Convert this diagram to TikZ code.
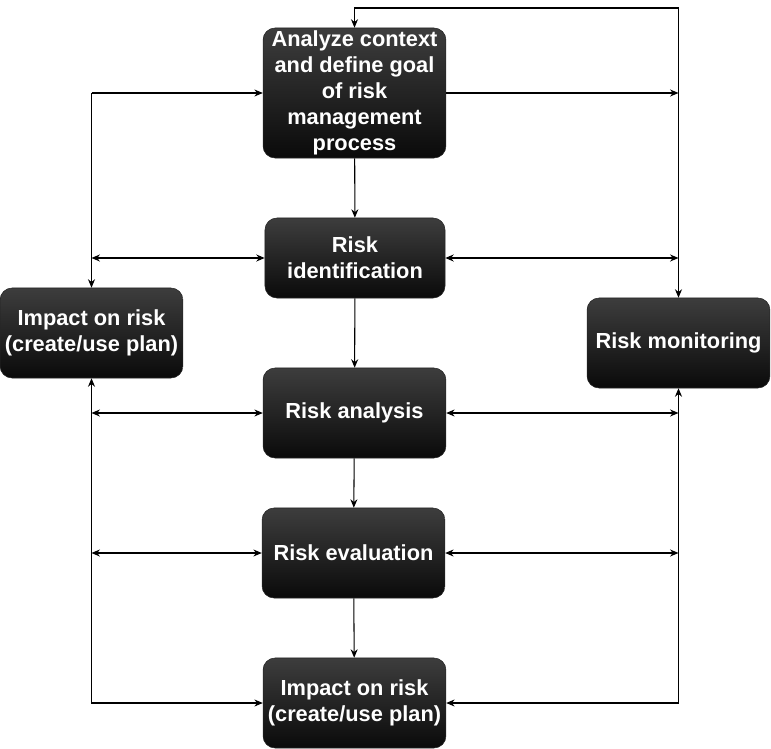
\documentclass[tikz,border=0pt]{standalone}
\usepackage{fontspec}
\setmainfont{Liberation Sans}
\usetikzlibrary{arrows.meta}
\colorlet{box top}{black!76}
\colorlet{box bottom}{black!96}
\colorlet{box edge}{black!85}
\tikzset{
  riskbox/.style={rounded corners=0.3cm, draw=box edge, top color=box top, bottom color=box bottom,
    text=white, font=\fontsize{15.5}{18.5}\selectfont\bfseries, align=center,
    minimum width=4.57cm, minimum height=2.25cm, inner sep=1pt},
  tall/.style={minimum height=3.25cm},
  short/.style={minimum width=4.5cm, minimum height=2cm},
  plain/.style={},
  flow/.style={draw, line width=0.75pt, -{Stealth[length=6pt,width=5pt]}},
  both/.style={draw, line width=0.75pt, {Stealth[length=6pt,width=5pt]}-{Stealth[length=6pt,width=5pt]}}
  }
\def\steps{{(354.5,93)/ctx/tall/{Analyze context\\and define goal\\of risk\\management\\process}},
  {(355,258)/ident/short/{Risk\\identification}},
  {(354.5,413)/analysis/plain/{Risk analysis}},
  {(353.5,553)/evaluation/plain/{Risk evaluation}},
  {(354.5,703)/impact/plain/{Impact on risk\\(create/use plan)}},
  {(91.5,333)/impactL/plain/{Impact on risk\\(create/use plan)}},
  {(678.5,343)/monitor/plain/{Risk monitoring}}}

\begin{document}
\begin{tikzpicture}[x=0.025cm, y=-0.025cm]

  \useasboundingbox (0,0) rectangle (771,749);

  % The process steps
  \foreach \pos/\name/\kind/\label in \steps {
    \node[riskbox, \kind] (\name) at \pos {\label};
  }

  % Rail corners
  \coordinate (top) at (678.5,8);
  \coordinate (leftA) at (ctx.west -| impactL);
  \coordinate (rightA) at (ctx.east -| monitor);

  % Main chain
  \foreach \source/\sink in {ctx/ident, ident/analysis, analysis/evaluation, evaluation/impact}
    \path[flow] (\source) -- (\sink);

  % The top loop and the rails
  \path[both] (ctx.north) |- (top) -- (monitor.north);
  \path[flow] (ctx.east) -- (rightA);
  \path[flow] (leftA) -- (ctx.west);
  \path[flow] (leftA) -- (impactL.north);
  \path[both] (impactL.south) |- (impact.west);
  \path[both] (monitor.south) |- (impact.east);

  % Side branches
  \foreach \name in {ident, analysis, evaluation} {
    \path[both] (\name.west) -- (\name.west -| impactL);
    \path[both] (\name.east) -- (\name.east -| monitor);
  }

\end{tikzpicture}
\end{document}
